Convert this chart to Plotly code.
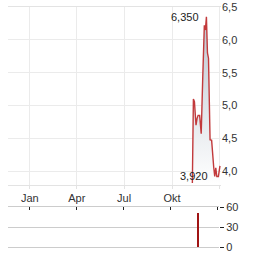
import plotly.graph_objects as go

# --- data ---
price_dates = ["2023-11-09", "2023-11-11", "2023-11-13", "2023-11-16", "2023-11-18",
               "2023-11-20", "2023-11-23", "2023-11-26", "2023-11-29", "2023-12-02",
               "2023-12-04", "2023-12-06", "2023-12-08", "2023-12-10", "2023-12-13",
               "2023-12-16", "2023-12-20", "2023-12-22", "2023-12-24", "2023-12-26",
               "2023-12-29", "2024-01-01"]
prices = [3.82, 5.10, 5.06, 4.70, 4.80,
          4.85, 4.85, 4.57, 5.44, 6.22,
          6.15, 6.35, 5.80, 5.72, 4.48,
          4.47, 4.06, 3.92, 4.05, 3.92,
          3.92, 4.08]
volume_dates = ["2023-11-24"]
volumes = [51]

tick_dates = ["2023-01-01", "2023-04-01", "2023-07-01", "2023-10-01", "2024-01-01"]
tick_text = ["Jan", "Apr", "Jul", "Okt", ""]
price_ticks = [4.0, 4.5, 5.0, 5.5, 6.0, 6.5]
vol_ticks = [0, 30, 60]
high_label, high_date, high_val = "6,350", "2023-12-06", 6.35
low_label, low_date, low_val = "3,920", "2023-12-22", 3.92

x_range = ["2022-11-20", "2024-01-03"]
W, H = 264, 255
FONT = "Liberation Sans, Arial, sans-serif"

fig = go.Figure()
fig.add_trace(go.Scatter(
    x=price_dates, y=prices, mode="lines",
    line=dict(color="#c23a3c", width=1.4),
    fill="tozeroy",
    fillgradient=dict(type="vertical",
                      colorscale=[[0, "rgba(255,255,255,1)"], [1, "rgb(188,198,208)"]],
                      start=3.8, stop=6.35),
    xaxis="x", yaxis="y", showlegend=False, hoverinfo="skip"))
fig.add_trace(go.Bar(
    x=volume_dates, y=volumes, marker=dict(color="#a01414", line=dict(width=0)),
    width=2.0 * 86400000, xaxis="x2", yaxis="y2", showlegend=False, hoverinfo="skip"))

for txt, d, v in [(high_label, high_date, high_val), (low_label, low_date, low_val)]:
    fig.add_annotation(x=d, y=v, xref="x", yref="y", text=txt, showarrow=False,
                       xanchor="right", yanchor="middle", xshift=-5,
                       font=dict(family=FONT, size=11, color="#222"))

fig.update_layout(
    width=W, height=H, margin=dict(l=0, r=0, t=0, b=0, autoexpand=False),
    paper_bgcolor="white", plot_bgcolor="white",
    separators=",.",
    font=dict(family=FONT, size=11, color="#333"),
    xaxis=dict(domain=[8 / W, 221 / W], range=x_range, type="date", automargin=False,
               tickvals=tick_dates, ticktext=tick_text,
               showgrid=True, gridcolor="#ebebeb", gridwidth=1,
               showline=True, linecolor="#e3e3e3", mirror=True,
               ticks="outside", ticklen=3, tickcolor="#e3e3e3",
               tickfont=dict(size=11, color="#333"), zeroline=False),
    yaxis=dict(domain=[(H - 185) / H, (H - 7) / H], range=[3.79, 6.5], side="right",
               automargin=False,
               tickvals=price_ticks, tickformat=".1f",
               showgrid=True, gridcolor="#ebebeb", gridwidth=1,
               showline=False, zeroline=False, ticks="",
               tickfont=dict(size=11, color="#333")),
    xaxis2=dict(domain=[8 / W, 219 / W], range=x_range, type="date", automargin=False,
                anchor="y2", side="top", mirror=True,
                tickvals=tick_dates, showticklabels=False,
                ticks="inside", ticklen=3, tickcolor="#222",
                showgrid=False, showline=True, linecolor="#cccccc", linewidth=1,
                zeroline=False),
    yaxis2=dict(domain=[(H - 247) / H, (H - 207) / H], range=[0, 60], side="right",
                anchor="x2", tickvals=vol_ticks, automargin=False,
                showgrid=True, gridcolor="#cccccc", gridwidth=1,
                ticks="outside", ticklen=4, tickcolor="#222",
                showline=False, zeroline=False,
                tickfont=dict(size=11, color="#333")),
    bargap=0,
)

fig.write_html("out.html")
